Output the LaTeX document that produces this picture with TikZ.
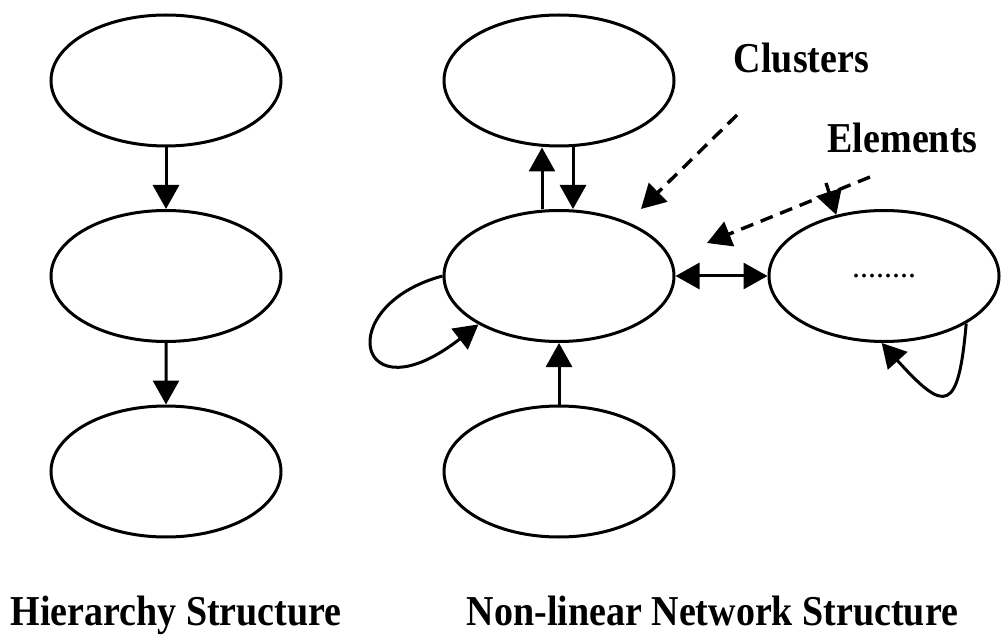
\documentclass[tikz,border=0pt]{standalone}
\usepackage{fontspec}
\usepackage{graphicx}
\setmainfont{Liberation Serif}
\usetikzlibrary{shapes.geometric,arrows.meta}

\newcommand{\tallcaption}[1]{\scalebox{1}[1.12]{#1}}

\begin{document}
\begin{tikzpicture}
  [x=0.5pt,y=0.5pt,line width=1.5pt,
   >={Triangle[length=12pt,width=13pt]},
   cluster/.style={ellipse,draw,minimum width=115pt,minimum height=65.5pt,inner sep=0pt},
   pointer/.style={->,line width=1.7pt,dash pattern=on 6.5pt off 4pt},
   caption/.style={font=\fontsize{19}{22}\selectfont\bfseries,anchor=base,inner sep=0pt},
   grow=south,level distance=97.75pt,
   parent anchor=south,child anchor=north,
   every child node/.style={cluster},
   edge from parent/.style={draw,->}]
  \useasboundingbox (0,0) rectangle (1001,-636);

  % hierarchy: a single chain
  \node[cluster] (h1) at (166,-80.5) {}
      child {node (h2) {}
        child {node (h3) {}}
      };

  % network clusters
  \node[cluster] (n1) at (559,-80.5) {};
  \node[cluster] (n2) at (559,-276) {};
  \node[cluster] (n3) at (559,-471.5) {};
  \node[cluster] (el) at (884,-276) {\fontsize{16}{16}\selectfont........};

  \draw[->] ([xshift=-8.5pt]n2.north) -- ([xshift=-8.5pt]n1.south);
  \draw[->] ([xshift=7pt]n1.south) -- ([xshift=7pt]n2.north);
  \draw[->] (n3.north) -- (n2.south);
  \draw[<->] (n2.east) -- (el.west);

  % feedback loops
  \draw[->] (n2.west) .. controls +(195:115) and +(218:155) .. (n2.211);
  \draw[->] (el.330) .. controls +(265:90) and +(312:95) .. (el.268);

  % labels
  \node[caption] (hier) at (176,-625) {\tallcaption{Hierarchy Structure}};
  \node[caption] (net) at (712.5,-625) {\tallcaption{Non-linear Network Structure}};
  \node[caption] (clusters) at (801.5,-73) {\tallcaption{Clusters}};
  \node[caption] (elements) at (902.5,-153) {\tallcaption{Elements}};

  \coordinate (cl-tail) at (737,-115);
  \coordinate (cl-head) at (641,-209);
  \coordinate (el-tail) at (870,-177);
  \coordinate (el-head) at (707,-243);
  \coordinate (el-top) at (826,-183);
  \draw[pointer] (cl-tail) -- (cl-head);
  \draw[pointer] (el-tail) -- (el-head);
  \draw[pointer] (el-top) -- (el.128);
\end{tikzpicture}
\end{document}
